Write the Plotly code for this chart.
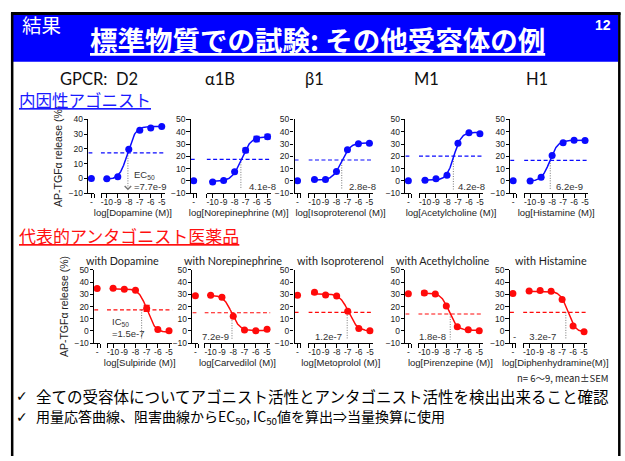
import numpy as np
import plotly.graph_objects as go

W, H = 625, 461

# ---------------- data ----------------
doses = [-10, -9, -8, -7, -6, -5]
dose_labels = ["-10", "-9", "-8", "-7", "-6", "-5"]

receptors = ["GPCR:  D2", "α1B", "β1", "M1", "H1"]
ago_xtitles = ["log[Dopamine (M)]", "log[Norepinephrine (M)]", "log[Isoproterenol (M)]",
               "log[Acetylcholine (M)]", "log[Histamine (M)]"]
ant_titles = ["with Dopamine", "with Norepinephrine", "with Isoproterenol",
              "with Acethylcholine", "with Histamine"]
ant_xtitles = ["log[Sulpiride (M)]", "log[Carvedilol (M)]", "log[Metoprolol (M)]",
               "log[Pirenzepine (M)]", "log[Diphenhydramine(M)]"]

# agonist responses (AP-TGFa release %)
ago_ctrl = [0.0, 0.0, 0.0, 0.0, 0.0]
ago_mean = [
    [-0.3, 1.2, 19.8, 32.6, 34.2, 35.2],
    [-1.0, 0.3, 7.5, 24.9, 34.1, 36.0],
    [1.0, 1.0, 7.7, 25.4, 30.3, 30.7],
    [0.5, 1.8, 4.5, 30.7, 39.2, 38.3],
    [-0.2, 2.9, 20.6, 31.0, 33.0, 32.9],
]
ago_sem = [
    [0, 0, 0, 0, 0, 0],
    [0, 0, 0, 1.8, 2.2, 1.8],
    [0, 0, 0, 0, 0, 0],
    [0, 0, 0, 0, 0, 0],
    [0, 0, 0, 0, 0, 0],
]
ago_half = [17.3, 17.5, 17.0, 20.2, 16.7]
ago_bottom = [-0.8, -0.5, 0.5, 0.5, -0.3]
ago_top = [35.3, 36.0, 31.0, 39.5, 33.0]
ago_logec = [-8.11, -7.39, -7.55, -7.38, -8.21]
ago_hill = [1.2, 1.0, 1.1, 1.3, 1.2]
ago_arrow = [-8.08, -7.43, -7.52, -7.42, -8.17]
ago_label = ["EC<sub>50</sub><br>=7.7e-9", "4.1e-8", "2.8e-8", "4.2e-8", "6.2e-9"]
ago_ymax = [40, 50, 50, 50, 50]

# antagonist responses
ant_ctrl = [34.8, 28.8, 29.3, 30.5, 30.6]
ant_mean = [
    [35.0, 34.2, 33.3, 18.5, 1.2, 0.2],
    [29.2, 27.6, 12.0, 0.8, 0.1, 1.5],
    [31.6, 29.4, 28.6, 16.2, 2.1, 0.2],
    [31.0, 30.2, 20.5, 3.5, 0.9, 0.2],
    [32.6, 33.0, 32.4, 25.8, 4.0, -0.6],
]
ant_sem = [
    [0, 0, 0, 2.5, 0, 0],
    [0, 1.2, 0, 0, 0, 0],
    [0, 0, 0, 0, 0, 0],
    [1.5, 0, 0, 0, 0, 0],
    [0, 0, 0, 0, 0, 0],
]
ant_half = [17.2, 14.9, 15.2, 13.9, 15.2]
ant_bottom = [-1.2, 0.3, 0.0, 0.5, -1.0]
ant_top = [34.5, 29.3, 30.5, 31.0, 32.5]
ant_logic = [-6.95, -8.14, -6.92, -7.74, -6.49]
ant_hill = [-1.2, -1.2, -1.1, -1.2, -1.3]
ant_arrow = [-7.45, -8.11, -7.05, -7.64, -6.66]
ant_label = ["IC<sub>50</sub><br>=1.5e-7", "7.2e-9", "1.2e-7", "1.8e-8", "-     3.2e-7"]
ant_ymax = [50, 50, 50, 50, 50]

# ---------------- geometry (pixels) ----------------
rows = [
    dict(L=[88.5, 191, 295, 406, 511], X10=[107, 213, 315, 425.7, 531],
         unit=[11, 11, 11, 11, 11], ytop=117, ybot=192.3, tip=-8,
         lab_x=[-7.7, -6.9, -7.05, -7.2, -7.8], lab_y=[-1.5, -4.8, -4.6, -4.6, -4.6]),
    dict(L=[94.3, 192.7, 295, 406, 510.7], X10=[113.3, 211, 315, 425, 530],
         unit=[11.2, 11.3, 11.1, 11, 11], ytop=270.7, ybot=345.7, tip=-8,
         lab_x=[-10.3, -8.2, -7.35, -7.8, -7.4], lab_y=[3.0, -4.2, -4.8, -4.8, -4.6]),
]
BLUE = "#0A0AFF"
RED = "#FF0A0A"
TICKFONT = dict(family="Liberation Sans", size=8.5, color="#222")
TITLEFONT = dict(family="Liberation Sans", size=9.5, color="#222")


def fx(p):
    return p / W


def fy(p):
    return 1 - p / H


def four_pl(x, bottom, top, logc, hill):
    return bottom + (top - bottom) / (1 + 10 ** ((logc - x) * hill))


fig = go.Figure()
layout = {}
annotations = []


def ax_key(prefix, i):
    return f"{prefix}axis" if i == 1 else f"{prefix}axis{i}"


def ax_ref(prefix, i):
    return prefix if i == 1 else f"{prefix}{i}"


for k in range(10):
    r = k // 5
    j = k % 5
    g = rows[r]
    if r == 0:
        ctrl, mean, sem, half = ago_ctrl[j], ago_mean[j], ago_sem[j], ago_half[j]
        fit = (ago_bottom[j], ago_top[j], ago_logec[j], ago_hill[j])
        arrow, label, ymax, xtitle, color = ago_arrow[j], ago_label[j], ago_ymax[j], ago_xtitles[j], BLUE
    else:
        ctrl, mean, sem, half = ant_ctrl[j], ant_mean[j], ant_sem[j], ant_half[j]
        fit = (ant_bottom[j], ant_top[j], ant_logic[j], ant_hill[j])
        arrow, label, ymax, xtitle, color = ant_arrow[j], ant_label[j], ant_ymax[j], ant_xtitles[j], RED

    xc, xd, yy = 2 * k + 1, 2 * k + 2, k + 1
    L, X10, u = g["L"][j], g["X10"][j], g["unit"][j]
    common = dict(showline=True, linecolor="black", linewidth=1.2, ticks="outside",
                  ticklen=3.5, tickwidth=1.1, tickcolor="black", tickfont=TICKFONT,
                  showgrid=False, zeroline=False, fixedrange=True, tickangle=0)
    layout[ax_key("x", xc)] = dict(domain=[fx(L), fx(L + 6)], range=[-1, 1],
                                   anchor=ax_ref("y", yy), tickvals=[0, 0.97],
                                   ticktext=["-", ""], ticklabelstandoff=-3, **common)
    layout[ax_key("x", xd)] = dict(domain=[fx(X10 - 0.55 * u), fx(X10 + 5.3 * u)],
                                   range=[-10.55, -4.7], anchor=ax_ref("y", yy),
                                   tickvals=[-10.53] + doses, ticktext=[""] + dose_labels,
                                   ticklabelstandoff=-3,
                                   title=dict(text=xtitle, font=TITLEFONT, standoff=0),
                                   **common)
    ycfg = dict(domain=[fy(g["ybot"]), fy(g["ytop"])], range=[-10, ymax],
                anchor=ax_ref("x", xc), tickvals=list(range(-10, ymax + 1, 10)),
                ticklabelstandoff=-1, **common)
    if j == 0:
        ycfg["title"] = dict(text="AP-TGFα release (%)",
                             font=dict(family="Liberation Sans", size=10.5, color="#222"),
                             standoff=3)
    layout[ax_key("y", yy)] = ycfg

    xcr, xdr, yr = ax_ref("x", xc), ax_ref("x", xd), ax_ref("y", yy)

    dash = dict(color=color, width=1.2, dash="4px,2.5px")
    fig.add_trace(go.Scatter(x=[-1, 1], y=[half, half], xaxis=xcr, yaxis=yr,
                             mode="lines", line=dash, hoverinfo="skip"))
    fig.add_trace(go.Scatter(x=[-10.55, -4.7], y=[half, half], xaxis=xdr, yaxis=yr,
                             mode="lines", line=dash, hoverinfo="skip"))
    # dotted drop line
    fig.add_trace(go.Scatter(x=[arrow, arrow], y=[half, g["tip"] + 1], xaxis=xdr, yaxis=yr,
                             mode="lines", line=dict(color="#777", width=1, dash="1px,1.5px"),
                             hoverinfo="skip"))
    xs = np.linspace(-10.3, -5.0, 140)
    fig.add_trace(go.Scatter(x=xs, y=four_pl(xs, *fit), xaxis=xdr, yaxis=yr, mode="lines",
                             line=dict(color=color, width=1.5), hoverinfo="skip"))
    fig.add_trace(go.Scatter(x=[0], y=[ctrl], xaxis=xcr, yaxis=yr, mode="markers",
                             marker=dict(color=color, size=7), cliponaxis=False))
    fig.add_trace(go.Scatter(x=doses, y=mean, xaxis=xdr, yaxis=yr, mode="markers",
                             marker=dict(color=color, size=7), cliponaxis=False,
                             error_y=dict(type="data", array=sem, visible=True,
                                          color=color, thickness=1.3, width=3)))
    annotations.append(dict(x=arrow, y=g["tip"], ax=arrow, ay=g["tip"] + 2.5,
                            xref=xdr, yref=yr, axref=xdr, ayref=yr, text="",
                            showarrow=True, arrowhead=4, arrowsize=1.4,
                            arrowwidth=0.9, arrowcolor="#777"))
    anchor = "left" if (r == 0 or j == 0) else "right"
    annotations.append(dict(x=g["lab_x"][j], y=g["lab_y"][j], xref=xdr, yref=yr,
                            text=label, showarrow=False, xanchor=anchor, align="left",
                            font=dict(family="Liberation Sans", size=9.5, color="#333")))

# ---------------- slide decoration ----------------
shapes = [
    dict(type="rect", xref="paper", yref="paper", x0=fx(13), x1=fx(619), y0=fy(58), y1=fy(10),
         fillcolor="#0000FF", line=dict(width=0), layer="below"),
    dict(type="line", xref="paper", yref="paper", x0=fx(11), x1=fx(621.5), y0=fy(8.7), y1=fy(8.7),
         line=dict(color="black", width=3)),
    dict(type="line", xref="paper", yref="paper", x0=fx(12.2), x1=fx(12.2), y0=fy(8), y1=0,
         line=dict(color="black", width=2.5)),
    dict(type="line", xref="paper", yref="paper", x0=fx(620.3), x1=fx(620.3), y0=fy(8), y1=0,
         line=dict(color="black", width=2.5)),
]

CJK = "Noto Sans CJK JP"


def ptext(text, x, y, size, color, family=CJK, xanchor="center", bold=False, under=False):
    font = dict(family=family, size=size, color=color)
    if bold:
        font["weight"] = "bold"
    if under:
        font["lineposition"] = "under"
    return dict(text=text, x=fx(x), y=fy(y), xref="paper", yref="paper", showarrow=False,
                xanchor=xanchor, yanchor="middle", font=font)


annotations += [
    ptext("結果", 42, 19.5, 19.5, "white"),
    ptext("標準物質での試験: その他受容体の例", 318.5, 34.5, 27.5, "white", bold=True, under=True),
    ptext("12", 604, 20.5, 14, "white", family="Liberation Sans", bold=True),
    ptext("内因性アゴニスト", 17, 97.5, 16.5, "#1A1AFF", xanchor="left", under=True),
    ptext("代表的アンタゴニスト医薬品", 17, 236, 17, "#FF1010", xanchor="left", under=True),
    ptext("n= 6〜9, mean±SEM", 612, 381, 9.5, "#222", xanchor="right"),
    ptext("✓", 22, 400, 14, "black", family="DejaVu Sans"),
    ptext("全ての受容体についてアゴニスト活性とアンタゴニスト活性を検出出来ること確認", 34, 400, 15.5,
          "black", xanchor="left"),
    ptext("✓", 22, 421, 14, "black", family="DejaVu Sans"),
    ptext("用量応答曲線、阻害曲線からEC<sub>50</sub>, IC<sub>50</sub>値を算出⇒当量換算に使用", 34, 421, 14,
          "black", xanchor="left"),
]
for name, cx in zip(receptors, [99, 220, 315, 427, 538]):
    annotations.append(ptext(name, cx, 76, 16.5, "#111", family="Lato"))
for name, cx in zip(ant_titles, [123, 233, 341, 444, 552]):
    annotations.append(ptext(name, cx, 261, 10.8, "#222", family="Lato"))

fig.update_layout(
    width=W, height=H, margin=dict(l=0, r=0, t=0, b=0, pad=0), autosize=False,
    paper_bgcolor="white", plot_bgcolor="rgba(0,0,0,0)", showlegend=False,
    shapes=shapes, annotations=annotations, **layout,
)

fig.write_html("out.html")
